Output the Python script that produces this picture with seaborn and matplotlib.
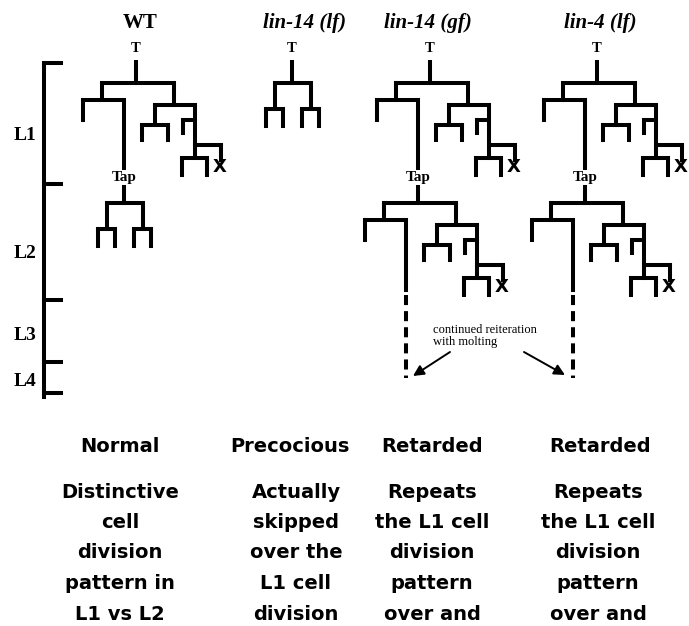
import pandas as pd
import matplotlib.pyplot as plt
import seaborn as sns

# everything is laid out in picture pixels, y grows downward
titles = ["WT", "lin-14 (lf)", "lin-14 (gf)", "lin-4 (lf)"]
title_italic = [False, True, True, True]
title_x = [140, 305, 428, 600]
root_x = [136, 292, 430, 597]
root_y = 62
l2_root_y = 182

stage_names = ["L1", "L2", "L3", "L4"]
stage_ticks = [63, 184, 300, 362, 393]
stage_label_y = [136, 253, 335, 382]

# L1 T cell lineage, relative to the top of the T stem
l1_vert_dx = [0, -34, -53, 38, 19, 6, 32, 59, 47, 85, 46, 71]
l1_vert_top = [0, 21, 38, 21, 43, 63, 63, 43, 58, 83, 96, 96]
l1_vert_bot = [21, 38, 58, 43, 63, 78, 78, 96, 71, 98, 113, 113]
l1_hor_left = [-34, -53, 19, 6, 47, 59, 46]
l1_hor_right = [38, -12, 59, 32, 59, 85, 71]
l1_hor_dy = [21, 38, 43, 63, 58, 83, 96]
death_dx, death_dy = 84, 105
tap_dx, tap_top = -12, 38
tap_end_l1 = 106       # down to the Tap label
tap_end_solid = 108    # in the repeated L2 pattern
dash_top, dash_bot = 113, 196

# two rounds of division (WT L2, lin-14(lf) L1)
small_vert_dx = [0, -17, 19, -26, -9, 10, 27]
small_vert_top = [0, 21, 21, 47, 47, 47, 47]
small_vert_bot = [21, 47, 47, 64, 64, 64, 64]
small_hor_left = [-17, -26, 10]
small_hor_right = [19, -9, 27]
small_hor_dy = [21, 47, 47]

# which pattern each panel shows in L1 / L2
l1_kind = ["l1", "small", "l1", "l1"]
l2_kind = ["small", None, "l1", "l1"]

note_text = "continued reiteration\nwith molting"
arrow_tail = [(450, 352), (524, 352)]
arrow_head = [(413, 376), (565, 375)]

headings = ["Normal", "Precocious", "Retarded", "Retarded"]
heading_x = [120, 290, 432, 600]
desc_x = [120, 296, 432, 598]
descriptions = [
    ["Distinctive", "cell", "division", "pattern in", "L1 vs L2"],
    ["Actually", "skipped", "over the", "L1 cell", "division"],
    ["Repeats", "the L1 cell", "division", "pattern", "over and"],
    ["Repeats", "the L1 cell", "division", "pattern", "over and"],
]

sns.set_theme(style="white")
plt.rcParams["font.family"] = ["Liberation Serif", "DejaVu Serif"]
plt.rcParams["text.color"] = "black"

segs = []


def add_seg(x0, y0, x1, y1):
    n = len(segs)
    segs.append({"x": x0, "y": y0, "seg": n})
    segs.append({"x": x1, "y": y1, "seg": n})


def add_pattern(kind, x0, y0, stub_top, tap_len):
    if kind == "l1":
        vdx, vt, vb = l1_vert_dx, l1_vert_top, l1_vert_bot
        hl, hr, hd = l1_hor_left, l1_hor_right, l1_hor_dy
    else:
        vdx, vt, vb = small_vert_dx, small_vert_top, small_vert_bot
        hl, hr, hd = small_hor_left, small_hor_right, small_hor_dy
    for dx, t, b in zip(vdx, vt, vb):
        t = max(t, stub_top) if dx == 0 else t
        add_seg(x0 + dx, y0 + t, x0 + dx, y0 + b)
    for l, r, d in zip(hl, hr, hd):
        add_seg(x0 + l, y0 + d, x0 + r, y0 + d)
    if kind == "l1":
        add_seg(x0 + tap_dx, y0 + tap_top, x0 + tap_dx, y0 + tap_len)


fig = plt.figure(figsize=(6.89, 6.26), dpi=100)
ax = fig.add_axes([0, 0, 1, 1])

x_marks = []
dashed = []
for i in range(4):
    rx = root_x[i]
    add_pattern(l1_kind[i], rx, root_y, 0, tap_end_l1)
    if l1_kind[i] == "l1":
        x_marks.append((rx + death_dx, root_y + death_dy))
    ax.text(rx, 48, "T", ha="center", va="center", fontsize=10.5, fontweight="bold")
    ax.text(title_x[i], 23, titles[i], ha="center", va="center", fontsize=15,
            fontweight="bold", style="italic" if title_italic[i] else "normal")
    if l2_kind[i] is None:
        continue
    tx = rx + tap_dx
    ax.text(tx, 177, "Tap", ha="center", va="center", fontsize=11, fontweight="bold")
    add_pattern(l2_kind[i], tx, l2_root_y, 5, tap_end_solid)
    if l2_kind[i] == "l1":
        x_marks.append((tx + death_dx, l2_root_y + death_dy))
        dashed.append(tx + tap_dx)

# developmental stage bar
add_seg(44, stage_ticks[0], 44, stage_ticks[-1] + 4)
for y in stage_ticks:
    add_seg(44, y, 61, y)

seg_df = pd.DataFrame(segs)
sns.lineplot(data=seg_df, x="x", y="y", units="seg", estimator=None, sort=False,
             color="black", linewidth=2.9, legend=False, ax=ax,
             solid_capstyle="projecting")

for dx in dashed:
    ax.plot([dx, dx], [l2_root_y + dash_top, l2_root_y + dash_bot], color="black",
            linewidth=2.9, dashes=(2.5, 1.5), solid_capstyle="butt")

for xm, ym in x_marks:
    ax.text(xm, ym, "X", ha="center", va="center", fontsize=13, fontweight="bold",
            family="DejaVu Sans")

for name, y in zip(stage_names, stage_label_y):
    ax.text(25, y, name, ha="center", va="center", fontsize=14, fontweight="bold")

ax.text(433, 336, note_text, ha="left", va="center", fontsize=9, linespacing=1.05)
for (x0, y0), (x1, y1) in zip(arrow_tail, arrow_head):
    ax.annotate("", xy=(x1, y1), xytext=(x0, y0),
                arrowprops=dict(arrowstyle="-|>", color="black", lw=1.4,
                                mutation_scale=16, shrinkA=0, shrinkB=0))

for j in range(4):
    ax.text(heading_x[j], 446, headings[j], ha="center", va="center", fontsize=14,
            fontweight="bold", family="DejaVu Sans")
    for k, line in enumerate(descriptions[j]):
        ax.text(desc_x[j], 492 + k * 30.5, line, ha="center", va="center", fontsize=14,
                fontweight="bold", family="DejaVu Sans")

ax.set_xlim(0, 689)
ax.set_ylim(626, 0)
ax.axis("off")
fig.savefig("out.png", dpi=100)
